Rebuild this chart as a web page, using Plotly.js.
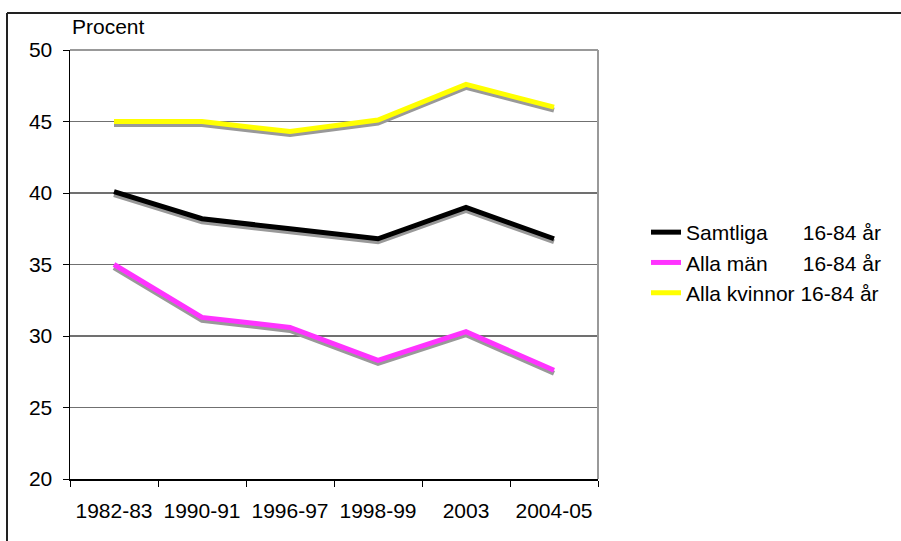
<!DOCTYPE html>
<html>
<head>
<meta charset="utf-8">
<script src="https://cdn.plot.ly/plotly-3.0.1.min.js"></script>
<style>html,body{margin:0;padding:0;background:#fff;}#chart{width:901px;height:541px;}</style>
</head>
<body>
<div id="chart"></div>
<script>
const categories = ["1982-83", "1990-91", "1996-97", "1998-99", "2003", "2004-05"];
const samtliga = [40.1, 38.2, 37.5, 36.8, 39.0, 36.8];
const allaMan = [35.0, 31.3, 30.6, 28.3, 30.3, 27.6];
const allaKvinnor = [45.0, 45.0, 44.3, 45.1, 47.6, 46.0];
const seriesNames = [
  "Samtliga\u00A0\u00A0\u00A0\u00A0\u00A0\u00A016-84 år",
  "Alla män\u00A0\u00A0\u00A0\u00A0\u00A0\u00A016-84 år",
  "Alla kvinnor 16-84 år"
];
const yTicks = [20, 25, 30, 35, 40, 45, 50];

const colors = ["#000000", "#FF33FF", "#FFFF00"];
const series = [samtliga, allaMan, allaKvinnor];
const FONT = "Liberation Sans, Arial, sans-serif";
const FS = 21;

const traces = [];
// shadows (on hidden, slightly shifted axis)
series.forEach((s) => {
  traces.push({
    x: categories, y: s, type: "scatter", mode: "lines",
    line: {color: "#999999", width: 5},
    yaxis: "y", showlegend: false, hoverinfo: "skip"
  });
});
series.forEach((s, i) => {
  traces.push({
    x: categories, y: s, type: "scatter", mode: "lines", name: seriesNames[i],
    line: {color: colors[i], width: 5},
    yaxis: "y2"
  });
});

const plotH = 429;
const shift = 3 * 30 / plotH;

const layout = {
  width: 901, height: 541,
  margin: {l: 70, r: 303, t: 50, b: 62, pad: 0},
  paper_bgcolor: "#ffffff", plot_bgcolor: "#ffffff",
  font: {family: FONT, size: FS, color: "#000"},
  showlegend: true,
  xaxis: {
    type: "category", categoryorder: "array", categoryarray: categories,
    range: [-0.5, 5.5], showgrid: false, zeroline: false,
    showline: true, linecolor: "#000", linewidth: 1.5,
    ticks: "outside", ticklen: 6, tickcolor: "#000", tickwidth: 1, tickson: "boundaries",
    ticklabelstandoff: 12,
    tickfont: {family: FONT, size: FS, color: "#000"}
  },
  yaxis: {
    range: [20 + shift, 50 + shift], visible: false, showgrid: false, zeroline: false
  },
  yaxis2: {
    overlaying: "y", side: "left", range: [20, 50],
    tickvals: yTicks, ticktext: yTicks.map(String),
    showgrid: true, gridcolor: "#707070", gridwidth: 1.2, zeroline: false,
    showline: true, linecolor: "#000", linewidth: 1.5,
    ticks: "outside", ticklen: 6, tickcolor: "#000", tickwidth: 1,
    ticklabelstandoff: 6,
    tickfont: {family: FONT, size: FS, color: "#000"}
  },
  legend: {
    x: (646 - 70) / 528, xanchor: "left",
    y: 1 - (212 - 50) / plotH, yanchor: "top",
    bgcolor: "rgba(0,0,0,0)", borderwidth: 0,
    font: {family: FONT, size: FS, color: "#000"},
    itemwidth: 30
  },
  annotations: [{
    text: "Procent", xref: "paper", yref: "paper",
    x: (70 - 70) / 528, xanchor: "left",
    y: 1 + (50 - 27) / plotH, yanchor: "middle",
    showarrow: false, font: {family: FONT, size: FS, color: "#000"}
  }],
  shapes: [
    {type: "line", xref: "paper", yref: "paper", x0: 0, x1: 1, y0: 1, y1: 1, line: {color: "#999999", width: 2}},
    {type: "line", xref: "paper", yref: "paper", x0: 1, x1: 1, y0: 0, y1: 1, line: {color: "#999999", width: 2}},
    {type: "line", xref: "paper", yref: "paper", x0: (7 - 70) / 528, x1: (905 - 70) / 528, y0: 1 + (50 - 13) / plotH, y1: 1 + (50 - 13) / plotH, line: {color: "#222222", width: 2}},
    {type: "line", xref: "paper", yref: "paper", x0: (7 - 70) / 528, x1: (7 - 70) / 528, y0: 1 + (50 - 13) / plotH, y1: (479 - 545) / plotH, line: {color: "#222222", width: 2}}
  ]
};

Plotly.newPlot("chart", traces, layout, {staticPlot: true, displayModeBar: false});
</script>
</body>
</html>
